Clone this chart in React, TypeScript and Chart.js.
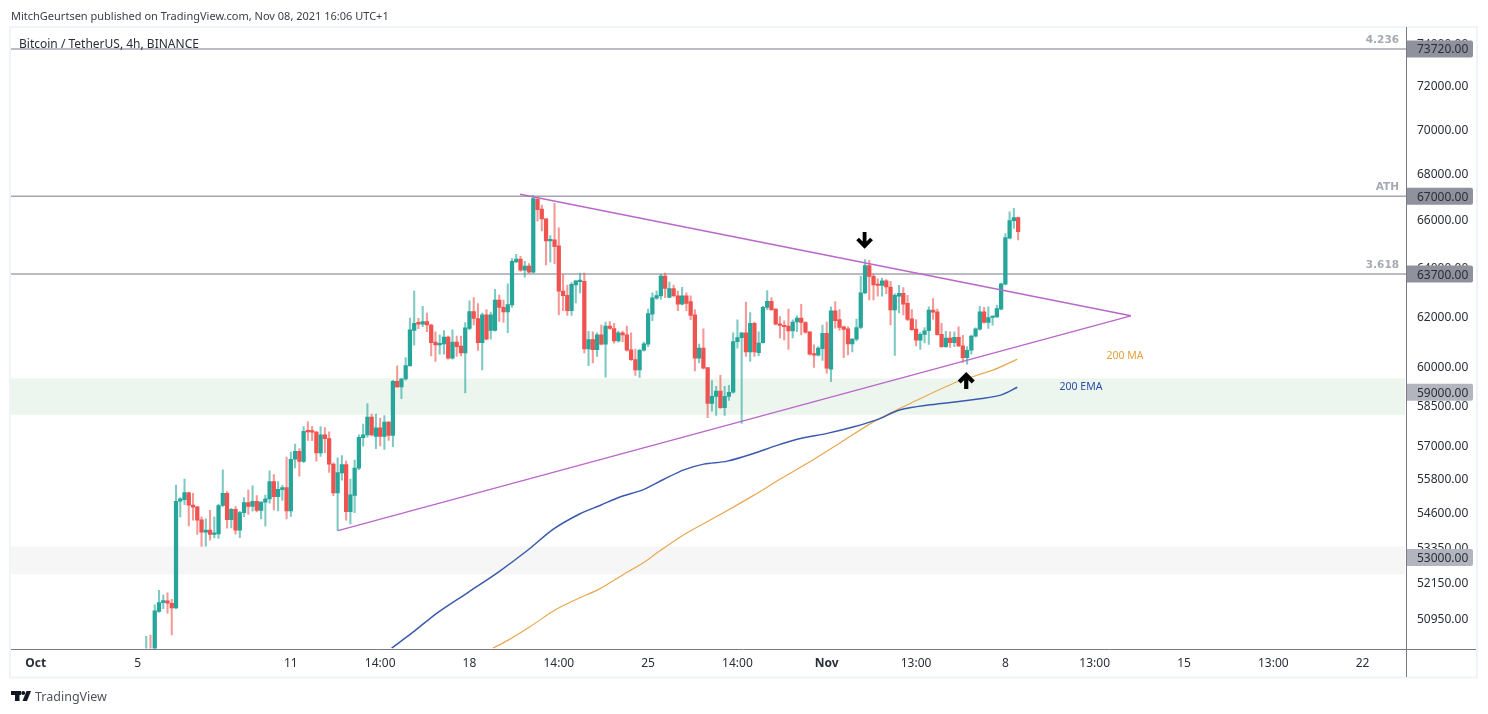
import React, { useEffect, useRef } from "react";
import Chart from "chart.js/auto";

// 4h candles, first one is Oct 5 08:00
const candleOpen = [
  49800, 49900, 49500, 51180, 51470, 51530, 51450, 51290, 54970, 55030, 55270, 54830, 54770, 54310, 53880, 53950, 53800, 53820, 54820, 55250,
  54320, 54680, 53950, 54560, 54920, 54790, 54970, 54640, 54940, 55050, 55680, 55130, 55380, 55460, 54630, 56490, 56780, 56410, 57540, 57520,
  57490, 56720, 57390, 57250, 56310, 55270, 55990, 56290, 54600, 55180, 56160, 57290, 57390, 58060, 57330, 57650, 57330, 57870, 57370, 59420,
  59200, 59510, 60020, 61410, 61740, 61660, 61770, 61630, 60950, 60840, 60880, 61150, 60320, 60950, 60790, 60520, 61490, 62170, 61890, 60930,
  62040, 61410, 61410, 62640, 62340, 62160, 62440, 64210, 64320, 63860, 64030, 63780, 66870, 66450, 66030, 65090, 65130, 64880, 63000, 62830,
  62210, 63260, 63390, 63400, 60680, 61050, 60650, 61240, 60870, 61590, 61490, 61000, 61320, 61240, 60650, 60260, 59860, 60630, 60870, 62070,
  62710, 62810, 63620, 62740, 63110, 62810, 62470, 62810, 62570, 62040, 60320, 60710, 59950, 58570, 58840, 59040, 58410, 58840, 59000, 60970,
  61130, 61320, 60560, 61700, 60530, 60930, 62340, 62590, 62270, 61680, 61620, 61590, 61390, 61750, 61910, 61730, 61360, 60490, 60440, 60690,
  61300, 59890, 62200, 61850, 61560, 61480, 60880, 61070, 61530, 62930, 64050, 63610, 63270, 63230, 63420, 63170, 62240, 62800, 62910, 62500,
  61880, 61470, 61030, 61260, 61400, 62230, 62160, 61260, 60770, 61110, 60930, 61140, 60800, 60340, 60630, 61190, 61460, 62160, 61730, 61930,
  61960, 62270, 63290, 65200, 65950, 66080,
];
const candleHigh = [
  50360, 50400, 51400, 51880, 51720, 51800, 51580, 55550, 55100, 55770, 55300, 55250, 54790, 54420, 54350, 54650, 54420, 54860, 56100, 55320,
  54720, 54780, 54610, 55100, 55370, 55520, 55170, 54950, 55190, 56070, 55930, 55680, 55540, 56570, 56750, 57050, 56880, 57700, 57880, 57710,
  57520, 57700, 57660, 57500, 56360, 56540, 56620, 56420, 55770, 56460, 57390, 57790, 58570, 58170, 58170, 58020, 58110, 57890, 59460, 60020,
  59540, 60340, 61910, 63000, 61900, 62380, 62110, 61670, 61360, 61240, 61410, 61190, 61440, 61190, 61190, 61730, 62610, 62740, 62490, 62110,
  62250, 62150, 63070, 62840, 62640, 63300, 64350, 64520, 64440, 64230, 64140, 67040, 66970, 66620, 66040, 65310, 66690, 65640, 63680, 63250,
  63350, 63430, 63740, 63740, 61380, 61360, 61320, 61630, 61750, 61770, 61700, 61390, 61390, 61590, 61320, 60680, 60680, 60950, 62270, 62930,
  63000, 63690, 63740, 63370, 63250, 63000, 63160, 62930, 62810, 62250, 60870, 61480, 59950, 59450, 59230, 59650, 59230, 59260, 61320, 61840,
  61330, 62550, 62130, 61750, 61360, 62380, 63020, 62740, 62290, 61970, 61800, 62270, 61840, 62000, 62460, 61770, 61360, 60840, 60770, 61630,
  61750, 62360, 62570, 62250, 61590, 61560, 61090, 61870, 63620, 64300, 64270, 63700, 63510, 63540, 63470, 63400, 62900, 63240, 63150, 62830,
  62250, 61850, 61330, 61530, 62360, 62700, 62270, 61700, 61380, 61360, 61360, 61560, 61220, 60770, 61230, 61520, 62380, 62340, 62360, 62000,
  62430, 63330, 65400, 66330, 66480, 66100,
];
const candleLow = [
  49600, 49650, 49400, 51140, 51270, 51120, 50400, 51270, 54410, 54850, 54100, 54300, 53800, 53380, 53390, 53600, 53680, 53660, 54780, 54020,
  54030, 53810, 53690, 54420, 54500, 54620, 54590, 54340, 54090, 54900, 54660, 54630, 55000, 54340, 54430, 56170, 55870, 56360, 57180, 57170,
  56420, 56590, 56730, 56010, 55170, 53930, 55730, 54300, 54170, 54560, 56110, 56970, 57300, 57350, 56880, 56980, 56850, 57180, 56950, 59180,
  58750, 59460, 60020, 60830, 61480, 61560, 61360, 60410, 60190, 60480, 60480, 60280, 60280, 60390, 60410, 58970, 61440, 61630, 60620, 59860,
  61040, 61070, 61380, 61770, 61730, 61330, 62350, 64170, 63810, 63570, 63740, 63740, 65930, 65510, 64080, 64210, 64130, 62040, 62210, 62020,
  62020, 62520, 62930, 60520, 60030, 60130, 60390, 60840, 59580, 61450, 60910, 60950, 60970, 60590, 60230, 59650, 59570, 60590, 60770, 61800,
  62660, 62670, 62730, 62730, 62760, 62210, 62440, 62210, 61840, 59820, 60130, 59900, 58030, 58280, 58120, 58380, 58120, 58690, 58960, 60710,
  57820, 60390, 60190, 60390, 60420, 60910, 62250, 62220, 61630, 61120, 61040, 60660, 61120, 61360, 61240, 61300, 60440, 59960, 60410, 60230,
  59730, 59410, 61500, 61410, 60340, 60450, 60560, 61000, 61480, 62900, 62640, 62640, 62790, 62800, 62900, 61630, 60430, 62120, 62040, 61800,
  61410, 60800, 60660, 60920, 60860, 61850, 61230, 60740, 60740, 60740, 60770, 60770, 60150, 60080, 60480, 61160, 61420, 61700, 61490, 61620,
  61930, 62240, 63260, 65170, 65620, 65130,
];
const candleClose = [
  49900, 49700, 51200, 51470, 51540, 51450, 51290, 54970, 55060, 55280, 54830, 54760, 54300, 53880, 53950, 53800, 53840, 54820, 55250, 54320,
  54680, 53950, 54570, 54920, 54790, 54970, 54640, 54940, 55060, 55680, 55130, 55400, 55460, 54630, 56490, 56780, 56410, 57520, 57500, 57490,
  56720, 57390, 57250, 56310, 55270, 56000, 56290, 54600, 55200, 56170, 57300, 57390, 58060, 57390, 57650, 57330, 57870, 57370, 59420, 59200,
  59510, 60030, 61440, 61700, 61660, 61770, 61630, 60930, 60840, 60880, 61150, 60320, 60950, 60770, 60520, 61520, 62170, 61890, 60930, 62040,
  61070, 62040, 62640, 62340, 62160, 62450, 64230, 64320, 63860, 64030, 63780, 66900, 66420, 66020, 65090, 65130, 64850, 63000, 62820, 62210,
  63280, 63420, 63450, 60680, 61050, 60650, 61240, 60870, 61590, 61490, 61000, 61320, 61240, 60630, 60260, 59860, 60630, 60880, 62090, 62730,
  62820, 63620, 63110, 63110, 62820, 62470, 62810, 62500, 62020, 60320, 60710, 59930, 58570, 58840, 59040, 58410, 58840, 59000, 60970, 61130,
  61320, 60560, 61700, 60560, 60910, 62340, 62590, 62250, 61660, 61610, 61560, 61390, 61750, 61910, 61730, 61340, 60480, 60440, 60710, 61300,
  59930, 62200, 61800, 61530, 61450, 60880, 61070, 61530, 62930, 64050, 63610, 63260, 63230, 63420, 63170, 62240, 62830, 62910, 62470, 61850,
  61440, 61030, 61260, 61400, 62230, 62150, 61250, 60770, 61110, 60930, 61140, 60800, 60340, 60630, 61190, 61480, 62160, 61730, 61930, 61990,
  62290, 63300, 65230, 65950, 66080, 65480,
];

const maIndex = [81.5, 85.2, 90.3, 96.2, 101.3, 106.7, 112.2, 116.9, 120.1, 126.4, 135.8, 142.8, 149.1, 156.9, 163.2, 171.9, 181.3, 190.7, 199.2, 204.8];
const maPrice = [49970, 50240, 50680, 51230, 51590, 51940, 52420, 52820, 53160, 53790, 54570, 55180, 55770, 56480, 57100, 57960, 58700, 59400, 59860, 60280];
const emaIndex = [57.7, 62.8, 68.3, 75.8, 82.8, 89.6, 95.8, 102, 106.7, 111.5, 116.6, 121.6, 126.4, 131.1, 136.6, 142.8, 148.3, 154.3, 160.1, 166.4, 171.9, 177.3, 184.4, 193.8, 200.9, 204.8];
const emaPrice = [49970, 50500, 51115, 51825, 52500, 53240, 53990, 54525, 54820, 55130, 55370, 55750, 56100, 56310, 56420, 56700, 57000, 57270, 57445, 57690, 57960, 58330, 58520, 58700, 58890, 59190];

const upperTrendIndex = [87.9, 231.5];
const upperTrendPrice = [67090, 62000];
const lowerTrendIndex = [45.1, 231.5];
const lowerTrendPrice = [53930, 62000];

const levelPrices = [73720, 67000, 63700];
const levelNames = ["4.236", "ATH", "3.618"];
const badgePrices = [73720, 67000, 63700, 59000, 53000];
const zoneTop = [59530, 53380];
const zoneBottom = [58140, 52420];
const arrowIndex = [168.9, 192.8];
const arrowPrice = [64790, 59745];

const priceTicks = [74000, 72000, 70000, 68000, 66000, 64000, 62000, 60000, 58500, 57000, 55800, 54600, 53350, 52150, 50950];
const timeTicks = [-26, -2, 34, 55, 76, 97, 118, 139, 160, 181, 202, 223, 244, 265, 286];
const timeLabels = ["Oct", "5", "11", "14:00", "18", "14:00", "25", "14:00", "Nov", "13:00", "8", "13:00", "15", "13:00", "22"];

const TEAL = "#26a69a";
const RED = "#ef5350";
const FONT = '"Noto Sans"';

const overlays = {
  id: "overlays",
  beforeDatasetsDraw(chart: any) {
    const { ctx, chartArea: a, scales } = chart;
    ctx.save();
    // support / resistance zones
    zoneTop.forEach((top, i) => {
      const y1 = scales.y.getPixelForValue(top);
      const y2 = scales.y.getPixelForValue(zoneBottom[i]);
      ctx.fillStyle = i === 0 ? "#edf6ee" : "#f6f6f6";
      ctx.fillRect(a.left, y1, a.right - a.left - 1, y2 - y1);
    });
    ctx.restore();
  },
  afterDraw(chart: any) {
    const { ctx, chartArea: a, scales } = chart;
    ctx.save();
    ctx.textBaseline = "middle";

    // level names above the lines
    ctx.font = `bold 10.5px "DejaVu Sans"`;
    ctx.fillStyle = "#a6a9b3";
    ctx.textAlign = "right";
    levelPrices.forEach((p, i) => {
      ctx.fillText(levelNames[i], 1399, scales.y.getPixelForValue(p) - 9);
    });

    // price badges
    ctx.textAlign = "left";
    badgePrices.forEach((p, i) => {
      const y = scales.y.getPixelForValue(p);
      ctx.fillStyle = i < 3 ? "#8f919d" : "#b2b5be";
      ctx.beginPath();
      ctx.roundRect(a.right + 1, y - 8.5, 66, 17, [0, 2, 2, 0]);
      ctx.fill();
      ctx.fillStyle = "#2a2e39";
      ctx.font = `12px ${FONT}`;
      ctx.fillText(p.toFixed(2), 1417, y + 1);
    });

    // arrows
    arrowIndex.forEach((idx, i) => {
      const x = scales.x.getPixelForValue(idx);
      const tip = scales.y.getPixelForValue(arrowPrice[i]);
      const dir = i === 0 ? -1 : 1;
      ctx.strokeStyle = "#000";
      ctx.lineWidth = i === 0 ? 3.8 : 4.2;
      ctx.lineJoin = "miter";
      ctx.beginPath();
      ctx.moveTo(x, tip + dir * 2);
      ctx.lineTo(x, tip + dir * 16);
      ctx.moveTo(x - 7, tip + dir * 9);
      ctx.lineTo(x, tip + dir * 2);
      ctx.lineTo(x + 7, tip + dir * 9);
      ctx.stroke();
    });

    // MA labels
    ctx.font = `10.5px ${FONT}`;
    ctx.textAlign = "center";
    ctx.fillStyle = "#e5a13f";
    ctx.fillText("200 MA", 1125, 356.5);
    ctx.fillStyle = "#2b4da3";
    ctx.fillText("200 EMA", 1081, 387.5);

    // frame and axis lines
    ctx.strokeStyle = "#f0f3fa";
    ctx.lineWidth = 2;
    ctx.strokeRect(10, 27, 1467, 650.5);
    ctx.strokeStyle = "#787b86";
    ctx.lineWidth = 1;
    ctx.beginPath();
    ctx.moveTo(1406.5, 27);
    ctx.lineTo(1406.5, 677);
    ctx.moveTo(11, 649.5);
    ctx.lineTo(1476, 649.5);
    ctx.stroke();

    // texts around the chart
    ctx.textAlign = "left";
    ctx.fillStyle = "#3a3d47";
    ctx.font = `11px ${FONT}`;
    ctx.fillText("MitchGeurtsen published on TradingView.com, Nov 08, 2021 16:06 UTC+1", 11, 16.5);
    ctx.fillStyle = "#2a2e39";
    ctx.font = `12px ${FONT}`;
    ctx.fillText("Bitcoin / TetherUS, 4h, BINANCE", 19, 45);

    // TradingView logo
    ctx.fillStyle = "#131722";
    ctx.fillRect(11, 691, 10, 4);
    ctx.fillRect(15, 691, 4.5, 10);
    ctx.beginPath();
    ctx.arc(23.2, 693, 2, 0, Math.PI * 2);
    ctx.fill();
    ctx.beginPath();
    ctx.moveTo(26.5, 691);
    ctx.lineTo(31, 691);
    ctx.lineTo(27, 701);
    ctx.lineTo(22.5, 701);
    ctx.closePath();
    ctx.fill();
    ctx.fillStyle = "#50535e";
    ctx.font = `12.5px ${FONT}`;
    ctx.fillText("TradingView", 35, 697);
    ctx.restore();
  },
};

const App = () => {
  const chartRef = useRef<any>(null);

  useEffect(() => {
    const ctx = chartRef.current.getContext("2d");
    const isUp = (i: number) => candleClose[i] >= candleOpen[i];
    const levelLines = levelPrices.map((p) => ({
      type: "line",
      data: [
        { x: -31.8, y: p },
        { x: 296.2, y: p },
      ],
      borderColor: "#a5a6ae",
      borderWidth: 1.5,
      pointRadius: 0,
      order: 6,
    }));
    const myChart = new Chart(ctx, {
      type: "bar",
      data: {
        datasets: [
          ...levelLines,
          {
            type: "bar",
            data: candleOpen.map((_, i) => ({ x: i, y: [candleLow[i], candleHigh[i]] })),
            backgroundColor: candleOpen.map((_, i) => (isUp(i) ? "rgba(38,166,154,0.6)" : "rgba(239,83,80,0.6)")),
            barThickness: 1.4,
            grouped: false,
            order: 5,
          },
          {
            type: "bar",
            data: candleOpen.map((_, i) => ({
              x: i,
              y: [Math.min(candleOpen[i], candleClose[i]), Math.max(candleOpen[i], candleClose[i])],
            })),
            backgroundColor: candleOpen.map((_, i) => (isUp(i) ? TEAL : RED)),
            barThickness: 3.6,
            grouped: false,
            minBarLength: 1.5,
            order: 4,
          },
          {
            type: "line",
            data: maIndex.map((x, i) => ({ x, y: maPrice[i] })),
            borderColor: "#e8a850",
            borderWidth: 1.2,
            pointRadius: 0,
            tension: 0.3,
            order: 3,
          },
          {
            type: "line",
            data: emaIndex.map((x, i) => ({ x, y: emaPrice[i] })),
            borderColor: "#3a5aae",
            borderWidth: 1.5,
            pointRadius: 0,
            tension: 0.3,
            order: 2,
          },
          {
            type: "line",
            data: upperTrendIndex.map((x, i) => ({ x, y: upperTrendPrice[i] })),
            borderColor: "#ba68c8",
            borderWidth: 1.4,
            pointRadius: 0,
            order: 1,
          },
          {
            type: "line",
            data: lowerTrendIndex.map((x, i) => ({ x, y: lowerTrendPrice[i] })),
            borderColor: "#ba68c8",
            borderWidth: 1.4,
            pointRadius: 0,
            order: 1,
          },
        ] as any,
      },
      options: {
        responsive: false,
        animation: false,
        events: [],
        layout: { padding: { left: 11, top: 26.5, right: 10, bottom: 36.5 } },
        plugins: { legend: { display: false }, tooltip: { enabled: false } },
        scales: {
          x: {
            type: "linear",
            offset: false,
            min: -31.8,
            max: 296.2,
            grid: { display: false },
            border: { display: false },
            afterBuildTicks: (axis: any) => {
              axis.ticks = timeTicks.map((value) => ({ value }));
            },
            afterFit: (axis: any) => {
              axis.height = 29;
            },
            ticks: {
              autoSkip: false,
              maxRotation: 0,
              padding: 0,
              color: "#2a2e39",
              font: (c: any) => ({
                family: "Noto Sans",
                size: 12,
                weight: c.tick && (c.tick.value === -26 || c.tick.value === 160) ? "bold" : "normal",
              }),
              callback: (value: any) => timeLabels[timeTicks.indexOf(value)],
            },
          },
          y: {
            type: "logarithmic",
            position: "right",
            min: 49960,
            max: 74805,
            grid: { display: false },
            border: { display: false },
            afterBuildTicks: (axis: any) => {
              axis.ticks = priceTicks.map((value) => ({ value }));
            },
            afterFit: (axis: any) => {
              axis.width = 72;
            },
            ticks: {
              autoSkip: false,
              padding: 3,
              labelOffset: 1.5,
              color: "#2a2e39",
              font: { family: "Noto Sans", size: 12 },
              callback: (value: any) => Number(value).toFixed(2),
            },
          },
        },
      } as any,
      plugins: [overlays],
    });

    return () => {
      myChart.destroy();
    };
  }, []);

  return <canvas ref={chartRef} width="1488" height="714" style={{ position: "absolute", left: 0, top: 0 }}></canvas>;
};

export default App;
